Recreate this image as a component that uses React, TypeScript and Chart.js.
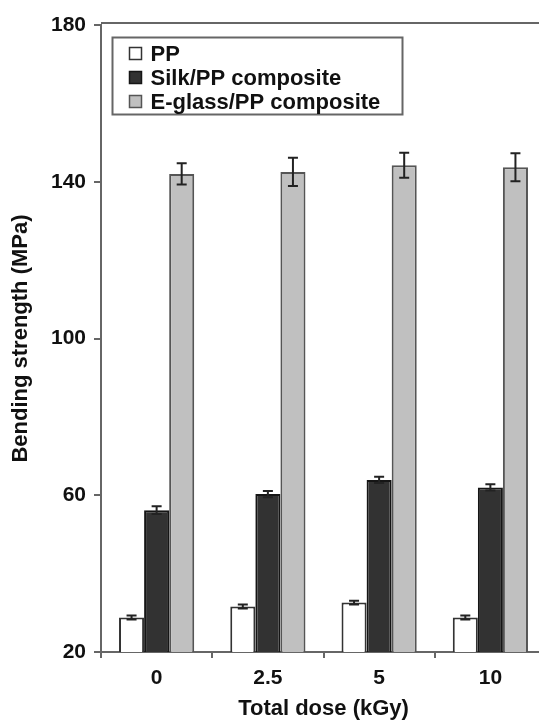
import React, { useEffect, useRef } from "react";
import { Chart, registerables } from "chart.js";

Chart.register(...registerables);

const categories = ["0", "2.5", "5", "10"];
const seriesNames = ["PP", "Silk/PP composite", "E-glass/PP composite"];
const ppValues = [28.8, 31.6, 32.6, 28.8];
const ppErrors = [0.5, 0.5, 0.5, 0.5];
const silkValues = [56.2, 60.3, 63.9, 62.0];
const silkErrors = [1.0, 0.8, 0.8, 0.8];
const glassValues = [142.0, 142.5, 144.2, 143.7];
const glassErrors = [2.7, 3.6, 3.2, 3.6];
const yTicks = [20, 60, 100, 140, 180];

const FONT = "'Liberation Sans', Arial, Helvetica, sans-serif";
const fills = ["#ffffff", "#323232", "#c0c0c0"];
const borders = ["#333333", "#151515", "#555555"];
const errorsBySeries = [ppErrors, silkErrors, glassErrors];

const errorBarPlugin = {
  id: "errorBars",
  afterDatasetsDraw(chart: any) {
    const ctx = chart.ctx;
    const yScale = chart.scales.y;
    ctx.save();
    ctx.strokeStyle = "#222222";
    ctx.lineWidth = 2;
    chart.data.datasets.forEach((ds: any, i: number) => {
      const meta = chart.getDatasetMeta(i);
      const errs = errorsBySeries[i];
      meta.data.forEach((bar: any, j: number) => {
        const v = ds.data[j];
        const e = errs[j];
        const x = bar.x;
        const yTop = yScale.getPixelForValue(v + e);
        const yBot = yScale.getPixelForValue(v - e);
        const cap = 5;
        ctx.beginPath();
        ctx.moveTo(x, yTop);
        ctx.lineTo(x, yBot);
        ctx.moveTo(x - cap, yTop);
        ctx.lineTo(x + cap, yTop);
        ctx.moveTo(x - cap, yBot);
        ctx.lineTo(x + cap, yBot);
        ctx.stroke();
      });
    });
    ctx.restore();
  },
};

const framePlugin = {
  id: "frameAndLegend",
  afterDraw(chart: any) {
    const ctx = chart.ctx;
    const area = chart.chartArea;
    ctx.save();
    // top and right border of the plot frame
    ctx.strokeStyle = "#666666";
    ctx.lineWidth = 2;
    ctx.beginPath();
    ctx.moveTo(area.left, area.top - 2);
    ctx.lineTo(area.right, area.top - 2);
    ctx.lineTo(area.right, area.bottom);
    ctx.stroke();

    // legend box
    const bx = area.left + 11.5;
    const by = area.top + 12.5;
    const bw = 290;
    const bh = 77;
    ctx.fillStyle = "#ffffff";
    ctx.fillRect(bx, by, bw, bh);
    ctx.strokeStyle = "#666666";
    ctx.lineWidth = 2;
    ctx.strokeRect(bx, by, bw, bh);

    ctx.font = `bold 22px ${FONT}`;
    ctx.textBaseline = "middle";
    ctx.textAlign = "left";
    chart.data.datasets.forEach((ds: any, i: number) => {
      const cy = by + 16 + i * 24;
      const sx = bx + 17;
      ctx.fillStyle = fills[i];
      ctx.fillRect(sx, cy - 6, 12, 12);
      ctx.strokeStyle = borders[i];
      ctx.lineWidth = 1.5;
      ctx.strokeRect(sx, cy - 6, 12, 12);
      ctx.fillStyle = "#111111";
      ctx.fillText(ds.label, bx + 38, cy + 1);
    });
    ctx.restore();
  },
};

export default function App() {
  const canvasRef = useRef<HTMLCanvasElement | null>(null);

  useEffect(() => {
    const canvas = canvasRef.current;
    if (!canvas) return;
    const seriesValues = [ppValues, silkValues, glassValues];
    const chart = new Chart(canvas, {
      type: "bar",
      data: {
        labels: categories,
        datasets: seriesNames.map((name, i) => ({
          label: name,
          data: seriesValues[i],
          backgroundColor: fills[i],
          borderColor: borders[i],
          borderWidth: 2,
          categoryPercentage: 0.676,
          barPercentage: 1.0,
        })),
      },
      options: {
        responsive: false,
        maintainAspectRatio: false,
        animation: false,
        layout: { padding: { top: 25, right: 14, left: 0, bottom: 0 } },
        plugins: {
          legend: { display: false },
          tooltip: { enabled: false },
          title: { display: false },
        },
        scales: {
          x: {
            type: "category",
            grid: {
              display: true,
              drawOnChartArea: false,
              drawTicks: true,
              tickLength: 6,
              color: "#666666",
              lineWidth: 2,
              offset: true,
            },
            border: { display: true, color: "#666666", width: 2 },
            ticks: {
              color: "#111111",
              padding: 8,
              font: { family: FONT, size: 21, weight: "bold" },
            },
            title: {
              display: true,
              text: "Total dose (kGy)",
              color: "#111111",
              font: { family: FONT, size: 22, weight: "bold" },
              padding: { top: 0, bottom: 2 },
            },
            afterFit(scale: any) {
              scale.height = 72;
            },
          },
          y: {
            type: "linear",
            min: 20,
            max: 180,
            grid: {
              display: true,
              drawOnChartArea: false,
              drawTicks: true,
              tickLength: 7,
              color: "#666666",
              lineWidth: 2,
            },
            border: { display: true, color: "#666666", width: 2 },
            afterBuildTicks(scale: any) {
              scale.ticks = yTicks.map((v) => ({ value: v }));
            },
            ticks: {
              color: "#111111",
              padding: 8,
              font: { family: FONT, size: 21, weight: "bold" },
            },
            title: {
              display: true,
              text: "Bending strength (MPa)",
              color: "#111111",
              font: { family: FONT, size: 22, weight: "bold" },
              padding: { top: 8, bottom: 0 },
            },
            afterFit(scale: any) {
              scale.width = 101;
            },
          },
        },
      },
      plugins: [errorBarPlugin, framePlugin],
    } as any);
    return () => chart.destroy();
  }, []);

  return (
    <div
      style={{
        position: "absolute",
        left: 0,
        top: 0,
        width: 539,
        height: 724,
        overflow: "hidden",
        background: "#ffffff",
      }}
    >
      <canvas ref={canvasRef} width={560} height={724} style={{ display: "block" }} />
    </div>
  );
}
